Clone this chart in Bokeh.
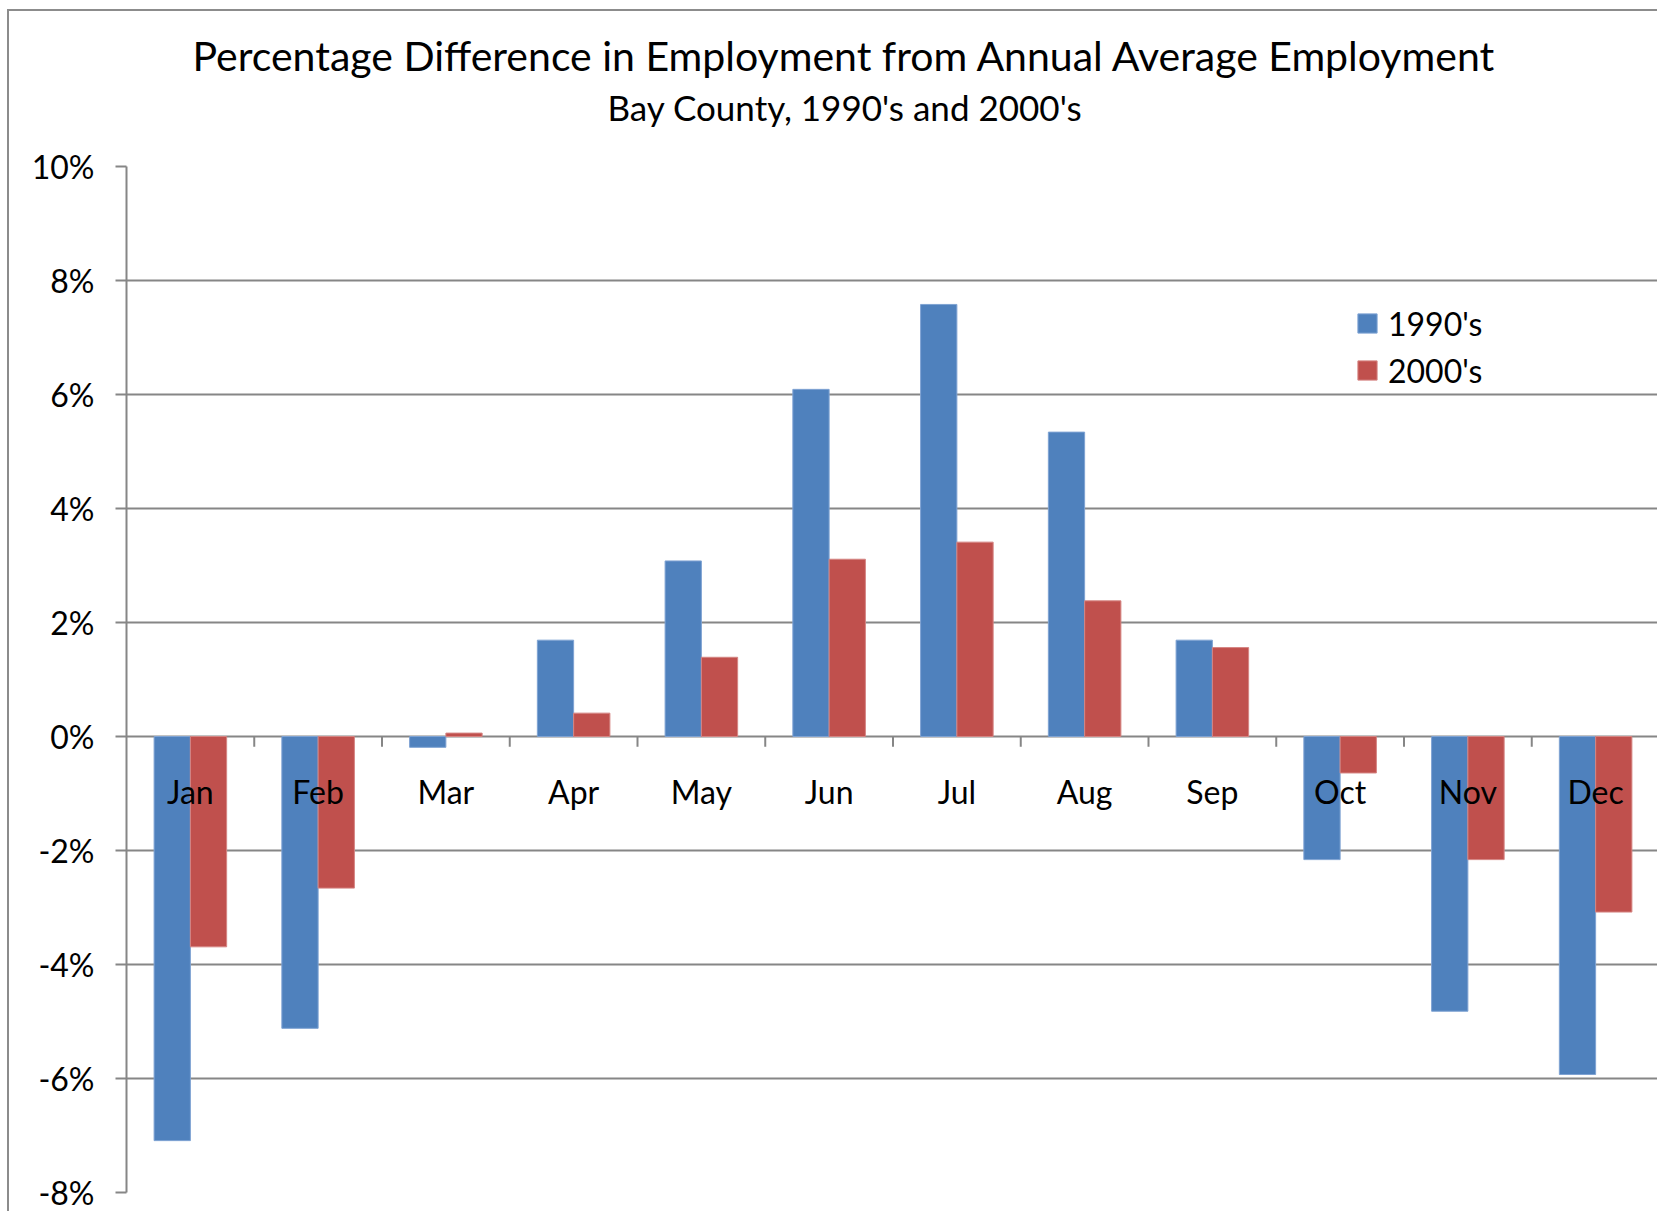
from bokeh.plotting import figure
from bokeh.models import (ColumnDataSource, FactorRange, Range1d, FixedTicker,
                          PrintfTickFormatter, Title, Legend, LegendItem)
from bokeh.transform import dodge
from bokeh.core.properties import value
from bokeh.embed import file_html
from bokeh.resources import INLINE

months = ["Jan", "Feb", "Mar", "Apr", "May", "Jun", "Jul", "Aug", "Sep", "Oct", "Nov", "Dec"]
v1990 = [-7.09, -5.12, -0.19, 1.69, 3.08, 6.09, 7.58, 5.34, 1.69, -2.16, -4.82, -5.93]
v2000 = [-3.69, -2.66, 0.06, 0.41, 1.39, 3.11, 3.41, 2.38, 1.56, -0.64, -2.16, -3.08]
y_ticks = [-8, -6, -4, -2, 0, 2, 4, 6, 8, 10]
series_names = ["1990's", "2000's"]
title_text = "Percentage Difference in Employment from Annual Average Employment"
subtitle_text = "Bay County, 1990's and 2000's"

FONT = "Lato"
BLUE = "#4F81BD"
RED = "#C0504D"
GRID = "#868686"

src = ColumnDataSource(dict(month=months, v1990=v1990, v2000=v2000))

p = figure(x_range=FactorRange(*months, range_padding=0), y_range=Range1d(-8, 10),
           width=1650, height=1202, output_backend="svg", toolbar_location=None,
           min_border_left=117, min_border_right=0, min_border_top=155, min_border_bottom=21,
           title=None)
p.styles = {"border-left": "2px solid #8c8c8c", "border-top": "2px solid #8c8c8c",
            "margin-left": "7px", "margin-top": "9px"}
p.outline_line_color = None
p.background_fill_color = "white"
p.border_fill_color = "white"

# axes
p.xaxis.visible = False
p.xgrid.visible = False
p.yaxis.ticker = FixedTicker(ticks=y_ticks)
p.yaxis.formatter = PrintfTickFormatter(format="%d%%")
p.yaxis.axis_line_color = GRID
p.yaxis.axis_line_width = 2
p.yaxis.major_tick_line_color = GRID
p.yaxis.major_tick_line_width = 2
p.yaxis.major_tick_out = 11
p.yaxis.major_tick_in = 0
p.yaxis.minor_tick_line_color = None
p.yaxis.major_label_text_font = FONT
p.yaxis.major_label_text_font_size = "32px"
p.yaxis.major_label_text_color = "black"
p.yaxis.major_label_standoff = 21
p.ygrid.ticker = FixedTicker(ticks=y_ticks)
p.ygrid.grid_line_color = GRID
p.ygrid.grid_line_width = 2

# bars
r1 = p.vbar(x=dodge("month", -0.142, range=p.x_range), top="v1990", bottom=0, width=0.284,
            source=src, fill_color=BLUE, line_color="#7FA3D3", line_width=1)
r2 = p.vbar(x=dodge("month", 0.142, range=p.x_range), top="v2000", bottom=0, width=0.284,
            source=src, fill_color=RED, line_color="#D58583", line_width=1)

# category tick marks on the zero line
bounds = list(range(1, len(months) + 1))
p.segment(x0=bounds, x1=bounds, y0=[0] * len(bounds), y1=[-0.18] * len(bounds),
          line_color=GRID, line_width=2)

# month labels next to the zero line
p.text(x="month", y=0, text="month", source=src, y_offset=55,
       text_align="center", text_baseline="middle", text_font=value(FONT),
       text_font_size="32px", text_color="black")

# titles: an empty spacer panel next to the plot, then subtitle, then title
p.add_layout(Title(text=" ", standoff=35, text_font=FONT, text_font_size="2px"), "above")
p.add_layout(Title(text=subtitle_text, align="left", offset=481, standoff=0,
                   text_font=FONT, text_font_size="35px", text_font_style="normal",
                   text_color="black"), "above")
p.add_layout(Title(text=title_text, align="left", offset=66, standoff=8,
                   text_font=FONT, text_font_size="41px", text_font_style="normal",
                   text_color="black"), "above")

legend = Legend(items=[LegendItem(label=series_names[0], renderers=[r1]),
                       LegendItem(label=series_names[1], renderers=[r2])],
                location=(1229, 802), orientation="vertical")
legend.border_line_color = None
legend.background_fill_alpha = 0
legend.padding = 0
legend.margin = 0
legend.glyph_width = 24
legend.glyph_height = 24
legend.label_height = 40
legend.spacing = 7
legend.label_standoff = 9
legend.label_text_font = FONT
legend.label_text_font_size = "32px"
legend.label_text_color = "black"
legend.label_text_baseline = "middle"
p.add_layout(legend, "center")

open("out.html", "w").write(file_html(p, INLINE))
